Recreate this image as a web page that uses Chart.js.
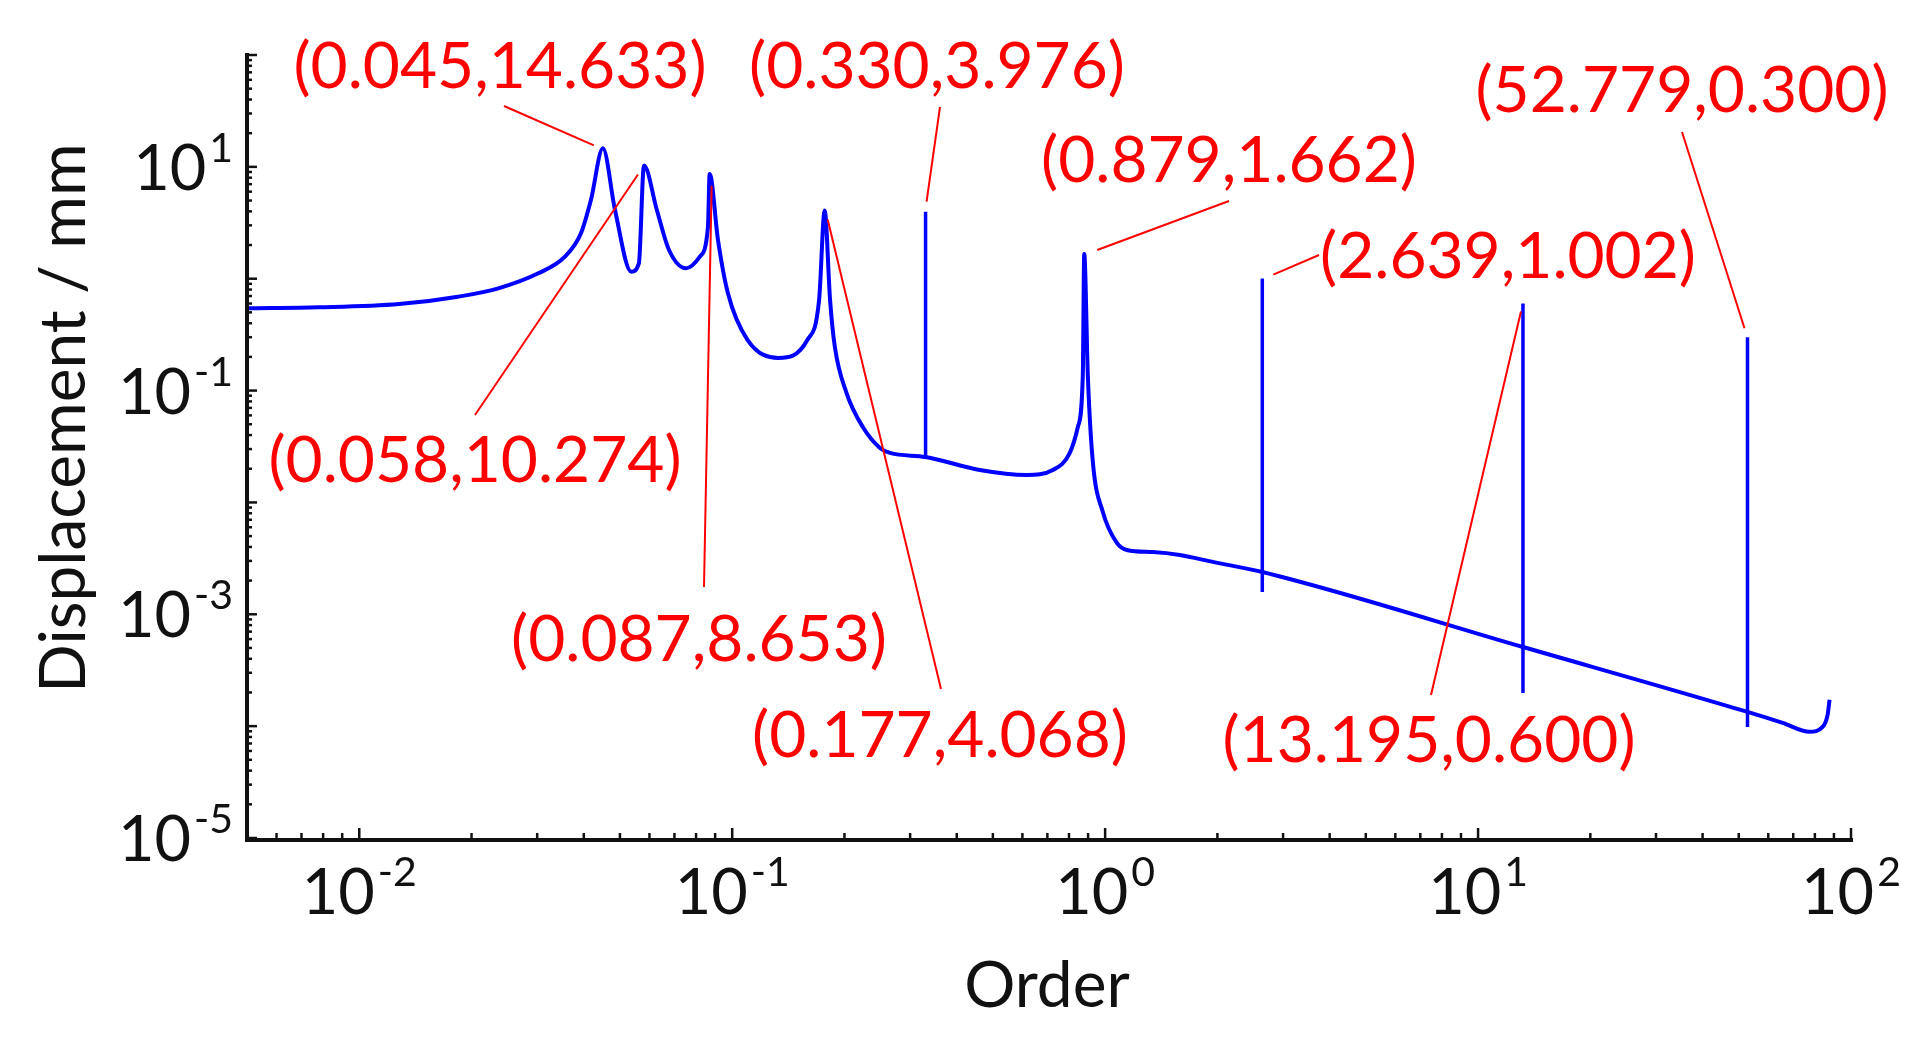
<!DOCTYPE html>
<html>
<head>
<meta charset="utf-8">
<title>Displacement vs Order</title>
<script src="https://cdn.jsdelivr.net/npm/chart.js@4.4.1/dist/chart.umd.min.js"></script>
<style>
  html, body { margin: 0; padding: 0; background: #ffffff; overflow: hidden; }
  #wrap { width: 1929px; height: 1050px; }
</style>
</head>
<body>
<div id="wrap"><canvas id="dispChart" width="1929" height="1050"></canvas></div>
<script>
// response curve (Order, Displacement in mm)
const orderX = [
  0.005, 0.0078, 0.0128, 0.0184, 0.0236, 0.0302, 0.0356, 0.0393, 0.0418, 0.045,
  0.0485, 0.0536, 0.0562, 0.058, 0.0628, 0.0677, 0.0752, 0.0819, 0.0861, 0.087,
  0.0916, 0.0974, 0.110, 0.133, 0.159, 0.171, 0.177, 0.183, 0.1885, 0.2026,
  0.224, 0.249, 0.265, 0.330, 0.461, 0.616, 0.724, 0.804, 0.845, 0.871,
  0.879, 0.899, 0.927, 0.986, 1.075, 1.143, 1.342, 1.586, 1.944, 2.639,
  13.195, 52.779, 65.57, 77.45, 83.9, 86.5, 87.6
];
const dispY = [
  0.544, 0.555, 0.594, 0.691, 0.821, 1.118, 1.573, 2.547, 5.055, 14.633,
  4.114, 1.156, 1.373, 10.274, 4.114, 1.806, 1.239, 1.573, 2.917, 8.653,
  2.219, 0.741, 0.283, 0.196, 0.283, 0.645, 4.068, 0.645, 0.245, 0.0951,
  0.0472, 0.0307, 0.0277, 0.0255, 0.0195, 0.0176, 0.0195, 0.0277, 0.0472, 0.132,
  1.662, 0.132, 0.0230, 0.00821, 0.00434, 0.00376, 0.00360, 0.00339, 0.00294, 0.00239,
  0.00051, 0.000134, 0.000107, 0.000089, 0.0000985, 0.000125, 0.000172
];

// narrow resonance spikes: order, top, bottom of the vertical stroke
const spikeOrder = [0.330, 2.639, 13.195, 52.779];
const spikeTop   = [3.976, 1.002, 0.600, 0.300];
const spikeLow   = [0.0245, 0.00158, 0.000198, 0.0000983];

// labelled peaks
const peakOrder = [0.045, 0.058, 0.087, 0.177, 0.330, 0.879, 2.639, 13.195, 52.779];
const peakDisp  = [14.633, 10.274, 8.653, 4.068, 3.976, 1.662, 1.002, 0.600, 0.300];

// axis ranges and labelled decades
const xMin = 0.005, xMax = 100;
const yMin = 1e-5, yMax = 100;
const xLabelExps = [-2, -1, 0, 1, 2];
const yLabelExps = [1, -1, -3, -5];

// callout layout (px): text anchor, leader start, leader end offset from the peak
const calloutLayout = [
  { tx: 500,  ty: 88,  sx: 504,  sy: 106, ox: -9, oy: -3 },
  { tx: 475,  ty: 482, sx: 475,  sy: 415, ox: -6, oy: 9 },
  { tx: 699,  ty: 661, sx: 704,  sy: 587, ox: 2,  oy: 12 },
  { tx: 940,  ty: 757, sx: 941,  sy: 689, ox: 3,  oy: 9 },
  { tx: 937,  ty: 88,  sx: 940,  sy: 107, ox: 1,  oy: -10 },
  { tx: 1229, ty: 182, sx: 1229, sy: 201, ox: 13, oy: -4 },
  { tx: 1508, ty: 278, sx: 1319, sy: 255, ox: 11, oy: -4 },
  { tx: 1429, ty: 762, sx: 1431, sy: 695, ox: -2, oy: 8 },
  { tx: 1682, ty: 112, sx: 1682, sy: 132, ox: -3, oy: -9 }
];

const FONT = 'Lato, "Open Sans", sans-serif';

function drawPow10(ctx, exp, x, baseY, align) {
    // "10" with a raised exponent
    ctx.font = `63px ${FONT}`;
    const wBase = ctx.measureText('10').width;
    ctx.font = `41px ${FONT}`;
    const expStr = String(exp);
    const wExp = ctx.measureText(expStr).width;
    const gap = 3;
    const total = wBase + gap + wExp;
    let left = align === 'right' ? x - total : x - total / 2;
    ctx.textAlign = 'left';
    ctx.textBaseline = 'alphabetic';
    ctx.fillStyle = '#111111';
    ctx.font = `63px ${FONT}`;
    ctx.fillText('10', left, baseY);
    ctx.font = `41px ${FONT}`;
    ctx.fillText(expStr, left + wBase + gap, baseY - 28);
}

const axesPlugin = {
    id: 'logAxes',
    afterDatasetsDraw(chart) {
        const ctx = chart.ctx;
        const xs = chart.scales.x, ys = chart.scales.y;
        const area = chart.chartArea;
        ctx.save();

        // ticks on the y axis (inside)
        ctx.strokeStyle = '#111111';
        ctx.lineWidth = 2.5;
        for (let e = -5; e <= 2; e++) {
            for (let k = 1; k <= 9; k++) {
                const v = k * Math.pow(10, e);
                if (v < yMin || v > yMax) continue;
                const py = ys.getPixelForValue(v);
                const len = k === 1 ? 10 : 5;
                ctx.beginPath();
                ctx.moveTo(area.left, py);
                ctx.lineTo(area.left + len, py);
                ctx.stroke();
            }
        }
        // ticks on the x axis (inside)
        for (let e = -3; e <= 2; e++) {
            for (let k = 1; k <= 9; k++) {
                const v = k * Math.pow(10, e);
                if (v < xMin || v > xMax) continue;
                const px = xs.getPixelForValue(v);
                const len = k === 1 ? 10 : 5;
                ctx.beginPath();
                ctx.moveTo(px, area.bottom);
                ctx.lineTo(px, area.bottom - len);
                ctx.stroke();
            }
        }

        // axis lines
        ctx.lineWidth = 4;
        ctx.lineCap = 'butt';
        ctx.beginPath();
        ctx.moveTo(area.left, area.top - 2);
        ctx.lineTo(area.left, area.bottom + 2);
        ctx.lineTo(area.right + 2, area.bottom + 2);
        ctx.stroke();

        // tick labels
        yLabelExps.forEach(e => {
            const py = ys.getPixelForValue(Math.pow(10, e));
            drawPow10(ctx, e, 233, py + 23, 'right');
        });
        xLabelExps.forEach(e => {
            const px = xs.getPixelForValue(Math.pow(10, e));
            drawPow10(ctx, e, px, 914, 'center');
        });

        // axis titles
        ctx.fillStyle = '#111111';
        ctx.font = `64px ${FONT}`;
        ctx.textAlign = 'center';
        ctx.textBaseline = 'alphabetic';
        ctx.fillText('Order', 1047, 1007);
        ctx.save();
        ctx.translate(85, 418);
        ctx.rotate(-Math.PI / 2);
        ctx.fillText('Displacement / mm', 0, 0);
        ctx.restore();

        // red callouts
        ctx.strokeStyle = '#FF0000';
        ctx.fillStyle = '#FF0000';
        ctx.lineWidth = 2;
        ctx.font = `64px ${FONT}`;
        peakOrder.forEach((px0, i) => {
            const lay = calloutLayout[i];
            const label = `(${px0.toFixed(3)},${peakDisp[i].toFixed(3)})`;
            const ex = xs.getPixelForValue(px0) + lay.ox;
            const ey = ys.getPixelForValue(peakDisp[i]) + lay.oy;
            ctx.beginPath();
            ctx.moveTo(lay.sx, lay.sy);
            ctx.lineTo(ex, ey);
            ctx.stroke();
            ctx.textAlign = 'center';
            ctx.fillText(label, lay.tx, lay.ty);
        });

        ctx.restore();
    }
};

const curvePoints = orderX.map((x, i) => ({ x: x, y: dispY[i] }));

const datasets = [{
    label: 'Displacement',
    data: curvePoints,
    showLine: true,
    borderColor: '#0000FF',
    borderWidth: 4,
    borderJoinStyle: 'bevel',
    pointRadius: 0,
    pointHoverRadius: 0,
    cubicInterpolationMode: 'monotone',
    fill: false
}];

spikeOrder.forEach((x, i) => {
    datasets.push({
        label: 'spike ' + x,
        data: [{ x: x, y: spikeLow[i] }, { x: x, y: spikeTop[i] }],
        showLine: true,
        borderColor: '#0000FF',
        borderWidth: 3.5,
        borderCapStyle: 'butt',
        pointRadius: 0,
        pointHoverRadius: 0,
        tension: 0,
        fill: false
    });
});

new Chart(document.getElementById('dispChart').getContext('2d'), {
    type: 'scatter',
    data: { datasets: datasets },
    options: {
        responsive: false,
        animation: false,
        devicePixelRatio: 1,
        layout: { padding: { left: 247, right: 78, top: 55, bottom: 212 } },
        plugins: { legend: { display: false }, tooltip: { enabled: false } },
        scales: {
            x: { type: 'logarithmic', min: xMin, max: xMax, display: false },
            y: { type: 'logarithmic', min: yMin, max: yMax, display: false }
        }
    },
    plugins: [axesPlugin]
});
</script>
</body>
</html>
